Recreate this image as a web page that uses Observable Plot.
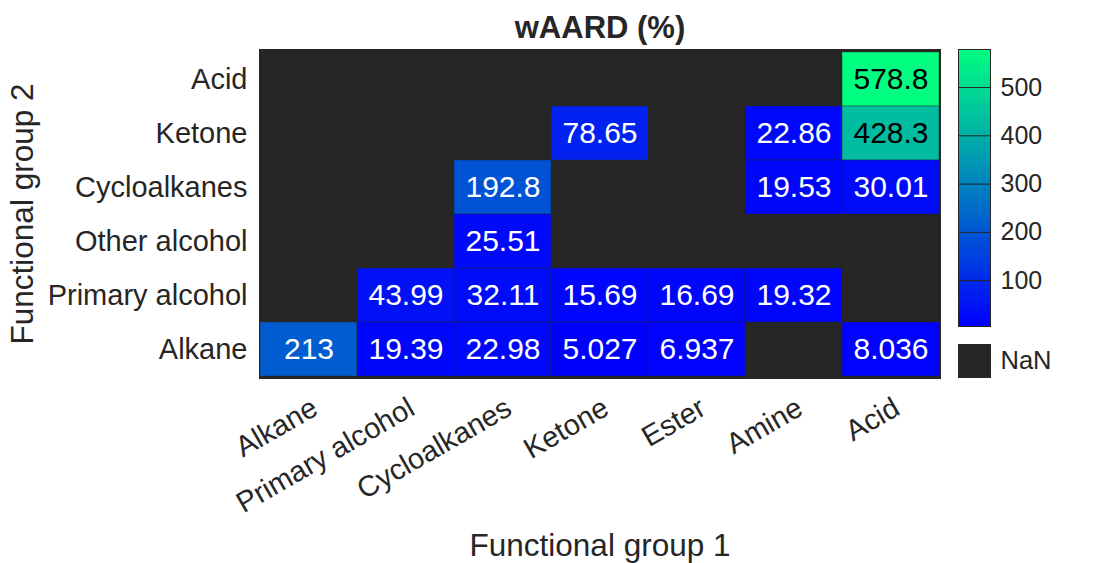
<!DOCTYPE html>
<html><head><meta charset="utf-8">
<script src="https://cdn.jsdelivr.net/npm/d3@7"></script>
<script src="https://cdn.jsdelivr.net/npm/@observablehq/plot@0.6"></script>
<style>
body{margin:0;background:#fff}
#wrap{position:relative;width:1094px;height:563px}
#wrap svg{position:absolute;left:0;top:0}
</style>
</head><body><div id="wrap"></div>
<script>
// Columns (Functional group 1) and rows (Functional group 2, top to bottom)
const group1 = ["Alkane","Primary alcohol","Cycloalkanes","Ketone","Ester","Amine","Acid"];
const group2 = ["Acid","Ketone","Cycloalkanes","Other alcohol","Primary alcohol","Alkane"];
// values per row, in group1 column order; null = NaN
const rowAcid          = [null, null, null, null, null, null, 578.8];
const rowKetone        = [null, null, null, 78.65, null, 22.86, 428.3];
const rowCycloalkanes  = [null, null, 192.8, null, null, 19.53, 30.01];
const rowOtherAlcohol  = [null, null, 25.51, null, null, null, null];
const rowPrimAlcohol   = [null, 43.99, 32.11, 15.69, 16.69, 19.32, null];
const rowAlkane        = [213, 19.39, 22.98, 5.027, 6.937, null, 8.036];
const colorbarTicks = [100, 200, 300, 400, 500];
const titleText = "wAARD (%)";
const xLabel = "Functional group 1";
const yLabel = "Functional group 2";

const rows = [rowAcid, rowKetone, rowCycloalkanes, rowOtherAlcohol, rowPrimAlcohol, rowAlkane];
const cells = [];
rows.forEach((r, i) => r.forEach((v, j) => { if (v != null) cells.push({g2: group2[i], g1: group1[j], value: v}); }));
const vmin = d3.min(cells, d => d.value), vmax = d3.max(cells, d => d.value);
const winter = t => d3.interpolateRgb("#0000ff", "#00ff80")(t);
const colorOpts = {type: "linear", domain: [vmin, vmax], interpolate: winter};
const fmt = v => String(+v.toPrecision(4));

const W = 1094, H = 563;
const font = "'Liberation Sans', Arial, Helvetica, sans-serif";
const ink = "#262626";
const nanColor = "#262626";
const wrap = document.getElementById("wrap");

const main = Plot.plot({
  width: W, height: H,
  marginTop: 49, marginBottom: 185, marginLeft: 259, marginRight: 154,
  style: {fontFamily: font, color: ink, background: "white", overflow: "visible"},
  x: {type: "band", domain: group1, padding: 0},
  y: {type: "band", domain: group2, padding: 0},
  color: colorOpts,
  marks: [
    Plot.frame({fill: nanColor}),
    Plot.cell(cells, {x: "g1", y: "g2", fill: "value", stroke: "#262626", strokeOpacity: 0.4, strokeWidth: 1}),
    Plot.text(cells, {x: "g1", y: "g2", text: d => fmt(d.value), fontSize: 30,
      fill: d => d.value > 300 ? "#000" : "#fff"}),
    Plot.frame({stroke: ink, strokeWidth: 1}),
    Plot.axisX({tickRotate: -30, tickSize: 0, tickPadding: 27, dx: 6, fontSize: 29, label: null}),
    Plot.axisY({tickSize: 0, tickPadding: 12, fontSize: 29, label: null}),
    Plot.text([titleText], {frameAnchor: "top", lineAnchor: "middle", dy: -21, text: d => d, fontSize: 31, fontWeight: "bold", fill: ink}),
    Plot.text([xLabel], {frameAnchor: "bottom", lineAnchor: "middle", dy: 167, text: d => d, fontSize: 31.5, fill: ink}),
    Plot.text([yLabel], {frameAnchor: "left", textAnchor: "middle", lineAnchor: "middle", dx: -237, rotate: -90, text: d => d, fontSize: 31.5, fill: ink})
  ]
});
wrap.appendChild(main);

// colorbar
const nSteps = 256;
const ramp = d3.range(nSteps).map(i => ({
  v1: vmin + (vmax - vmin) * i / nSteps,
  v2: vmin + (vmax - vmin) * (i + 1) / nSteps
}));
const cbar = Plot.plot({
  width: W, height: H,
  marginTop: 49, marginBottom: 237, marginLeft: 958, marginRight: 104,
  style: {fontFamily: font, color: ink, background: "transparent", overflow: "visible"},
  x: {domain: [0, 1], axis: null},
  y: {domain: [vmin, vmax]},
  color: colorOpts,
  marks: [
    Plot.rect(ramp, {x1: 0, x2: 1, y1: "v1", y2: "v2", fill: d => (d.v1 + d.v2) / 2, shapeRendering: "crispEdges"}),
    Plot.tickY(colorbarTicks, {y: d => d, x1: 0.9, x2: 1, stroke: ink}),
    Plot.frame({stroke: ink}),
    Plot.axisY(colorbarTicks, {anchor: "right", tickSize: 0, tickPadding: 10, fontSize: 25, label: null})
  ]
});
wrap.appendChild(cbar);

// NaN legend box
const nanBox = Plot.plot({
  width: W, height: H,
  marginTop: 344, marginBottom: 186, marginLeft: 958, marginRight: 104,
  style: {fontFamily: font, color: ink, background: "transparent", overflow: "visible"},
  x: {axis: null}, y: {axis: null},
  marks: [
    Plot.frame({fill: nanColor, stroke: ink}),
    Plot.text(["NaN"], {frameAnchor: "right", dx: 10, textAnchor: "start", text: d => d, fontSize: 25.5, fill: ink})
  ]
});
wrap.appendChild(nanBox);
</script>
</body></html>
